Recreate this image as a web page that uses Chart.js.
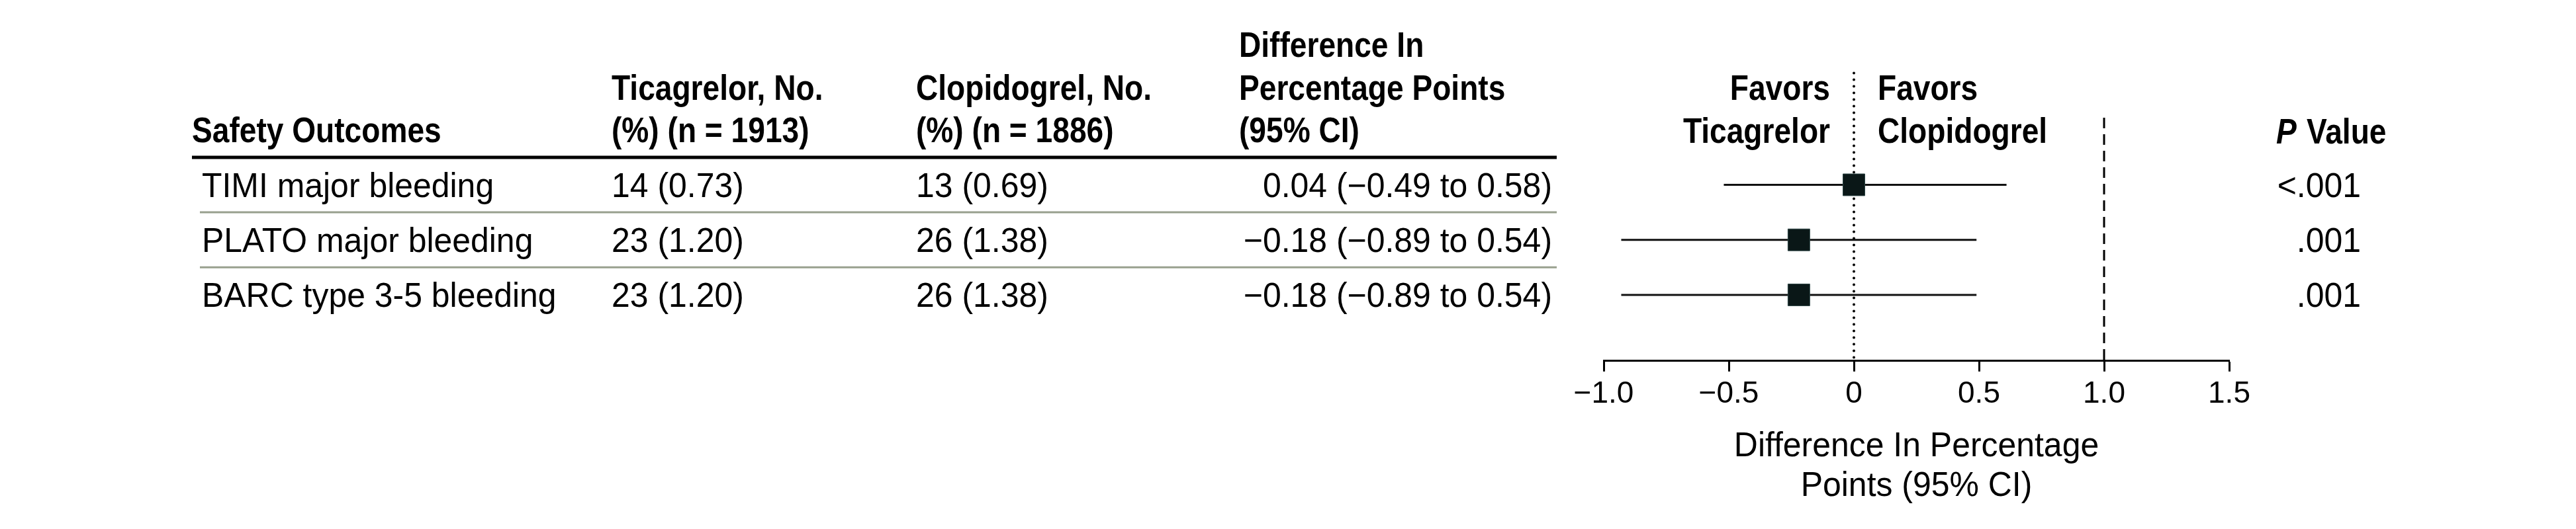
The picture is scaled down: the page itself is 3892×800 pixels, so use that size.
<!DOCTYPE html>
<html>
<head>
<meta charset="utf-8">
<title>Safety outcomes forest plot</title>
<script src="https://cdn.jsdelivr.net/npm/chart.js@4.4.1/dist/chart.umd.min.js"></script>
<style>
    html, body { margin: 0; padding: 0; background: #fff; }
    canvas { display: block; }
</style>
</head>
<body>
<canvas id="forest" width="3892" height="800"></canvas>
<script>
// table columns
var outcomes = ['TIMI major bleeding', 'PLATO major bleeding', 'BARC type 3-5 bleeding'];
var ticagrelorEvents = ['14 (0.73)', '23 (1.20)', '23 (1.20)'];
var clopidogrelEvents = ['13 (0.69)', '26 (1.38)', '26 (1.38)'];
var differenceText = ['0.04 (\u22120.49 to 0.58)', '\u22120.18 (\u22120.89 to 0.54)', '\u22120.18 (\u22120.89 to 0.54)'];
var pValues = ['<.001', '.001', '.001'];

// forest plot marks, as they are drawn in the figure
var pointEstimate = [0.0, -0.22, -0.22];
var ciLower = [-0.52, -0.93, -0.93];
var ciUpper = [0.61, 0.49, 0.49];

// x axis ticks
var xTicks = [-1.0, -0.5, 0, 0.5, 1.0, 1.5];

// fonts (table text is squeezed a little to match the original face)
var FAMILY = '"Liberation Sans", Arial, sans-serif';
var BOLD = 'bold 53px ' + FAMILY;
var BOLD_ITALIC = 'italic bold 53px ' + FAMILY;
var REGULAR = '52px ' + FAMILY;
var BOLD_SX = 0.87;
var REG_SX = 0.96;

// draw one piece of text, with a horizontal squeeze
function drawText(ctx, text, x, y, font, align, sx) {
    ctx.save();
    ctx.font = font;
    ctx.fillStyle = '#000';
    ctx.textBaseline = 'alphabetic';
    ctx.textAlign = align || 'left';
    ctx.translate(x, y);
    ctx.scale(sx || 1, 1);
    ctx.fillText(text, 0, 0);
    ctx.restore();
}

function hLine(ctx, x1, x2, y, width, color) {
    ctx.save();
    ctx.strokeStyle = color;
    ctx.lineWidth = width;
    ctx.beginPath();
    ctx.moveTo(x1, y);
    ctx.lineTo(x2, y);
    ctx.stroke();
    ctx.restore();
}

/* plugin that draws the table columns left of the plot,
 * the favors labels, the P values and the axis title
 */
var tablePlugin = {
    id: 'forestTable',
    afterDraw: function(chart) {
        var ctx = chart.ctx;
        var xScale = chart.scales.x;
        var yScale = chart.scales.y;
        var zeroX = xScale.getPixelForValue(0);

        // column headers
        drawText(ctx, 'Safety Outcomes', 290, 215, BOLD, 'left', BOLD_SX);
        drawText(ctx, 'Ticagrelor, No.', 924, 151, BOLD, 'left', BOLD_SX);
        drawText(ctx, '(%) (n = 1913)', 924, 215, BOLD, 'left', BOLD_SX);
        drawText(ctx, 'Clopidogrel, No.', 1384, 151, BOLD, 'left', BOLD_SX);
        drawText(ctx, '(%) (n = 1886)', 1384, 215, BOLD, 'left', BOLD_SX);
        drawText(ctx, 'Difference In', 1872, 86, BOLD, 'left', BOLD_SX);
        drawText(ctx, 'Percentage Points', 1872, 151, BOLD, 'left', BOLD_SX);
        drawText(ctx, '(95% CI)', 1872, 215, BOLD, 'left', BOLD_SX);

        // favors labels either side of the null line
        drawText(ctx, 'Favors', zeroX - 36, 151, BOLD, 'right', BOLD_SX);
        drawText(ctx, 'Ticagrelor', zeroX - 36, 216, BOLD, 'right', BOLD_SX);
        drawText(ctx, 'Favors', zeroX + 36, 151, BOLD, 'left', BOLD_SX);
        drawText(ctx, 'Clopidogrel', zeroX + 36, 216, BOLD, 'left', BOLD_SX);

        // P value header
        drawText(ctx, 'P', 3439, 217, BOLD_ITALIC, 'left', BOLD_SX);
        drawText(ctx, 'Value', 3485, 217, BOLD, 'left', BOLD_SX);

        // rule under the header, thin rules between rows
        hLine(ctx, 290, 2352, 238, 5, '#000');
        for (var r = 0; r < outcomes.length - 1; r++) {
            var midY = (yScale.getPixelForValue(r + 1) + yScale.getPixelForValue(r + 2)) / 2;
            hLine(ctx, 302, 2352, midY, 3, '#98a08e');
        }

        // table rows, lined up with the plot rows
        for (var i = 0; i < outcomes.length; i++) {
            var baseY = yScale.getPixelForValue(i + 1) + 18.5;
            drawText(ctx, outcomes[i], 305, baseY, REGULAR, 'left', REG_SX);
            drawText(ctx, ticagrelorEvents[i], 924, baseY, REGULAR, 'left', REG_SX);
            drawText(ctx, clopidogrelEvents[i], 1384, baseY, REGULAR, 'left', REG_SX);
            drawText(ctx, differenceText[i], 2345, baseY, REGULAR, 'right', REG_SX);
            drawText(ctx, pValues[i], 3567, baseY, REGULAR, 'right', REG_SX);
        }

        // axis title, centred on the axis
        var midX = (xScale.left + xScale.right) / 2;
        drawText(ctx, 'Difference In Percentage', midX, 690, REGULAR, 'center', REG_SX);
        drawText(ctx, 'Points (95% CI)', midX, 750, REGULAR, 'center', REG_SX);
    }
};

// plot geometry
var AXIS_Y = 545.8;
var Y_MIN = -1.1;
var Y_MAX = 4.2;

// confidence interval segments, one dataset per row
var ciDatasets = outcomes.map(function(name, i) {
    return {
        label: name,
        data: [{x: ciLower[i], y: i + 1}, {x: ciUpper[i], y: i + 1}],
        showLine: true,
        borderColor: '#111',
        borderWidth: 3,
        pointRadius: 0
    };
});

var datasets = [{
    label: 'Point estimate',
    data: pointEstimate.map(function(v, i) { return {x: v, y: i + 1}; }),
    pointStyle: 'rect',
    pointRadius: 23.3,
    backgroundColor: '#0a1717',
    borderColor: '#2c4545',
    borderWidth: 1
}].concat(ciDatasets).concat([{
    // null line
    label: 'No difference',
    data: [{x: 0, y: -1.03}, {x: 0, y: Y_MAX}],
    showLine: true,
    borderColor: '#000',
    borderWidth: 4,
    borderDash: [0, 10],
    borderCapStyle: 'round',
    pointRadius: 0
}, {
    // noninferiority margin
    label: 'Margin',
    data: [{x: 1.0, y: -0.22}, {x: 1.0, y: Y_MAX}],
    showLine: true,
    borderColor: '#000',
    borderWidth: 3,
    borderDash: [16, 9],
    pointRadius: 0
}]);

var chart = new Chart(document.getElementById('forest'), {
    type: 'scatter',
    data: {datasets: datasets},
    plugins: [tablePlugin],
    options: {
        responsive: false,
        animation: false,
        devicePixelRatio: 1,
        layout: {
            padding: {left: 2423, right: 524, top: 104.7, bottom: 0}
        },
        plugins: {
            legend: {display: false},
            tooltip: {enabled: false}
        },
        scales: {
            x: {
                type: 'linear',
                position: 'bottom',
                min: -1.0,
                max: 1.5,
                afterBuildTicks: function(scale) {
                    scale.ticks = xTicks.map(function(v) { return {value: v}; });
                },
                afterFit: function(scale) {
                    // fixed height so the axis sits where the original has it
                    scale.height = 800 - AXIS_Y;
                },
                border: {display: true, color: '#000', width: 3},
                grid: {
                    display: true,
                    drawOnChartArea: false,
                    drawTicks: true,
                    tickLength: 16,
                    tickWidth: 3,
                    tickColor: '#000'
                },
                ticks: {
                    color: '#000',
                    padding: 7,
                    maxRotation: 0,
                    autoSkip: false,
                    font: {family: FAMILY, size: 46},
                    callback: function(v) {
                        return v === 0 ? '0' : v.toFixed(1).replace('-', '\u2212');
                    }
                }
            },
            y: {
                type: 'linear',
                display: false,
                reverse: true,
                min: Y_MIN,
                max: Y_MAX
            }
        }
    }
});
</script>
</body>
</html>
